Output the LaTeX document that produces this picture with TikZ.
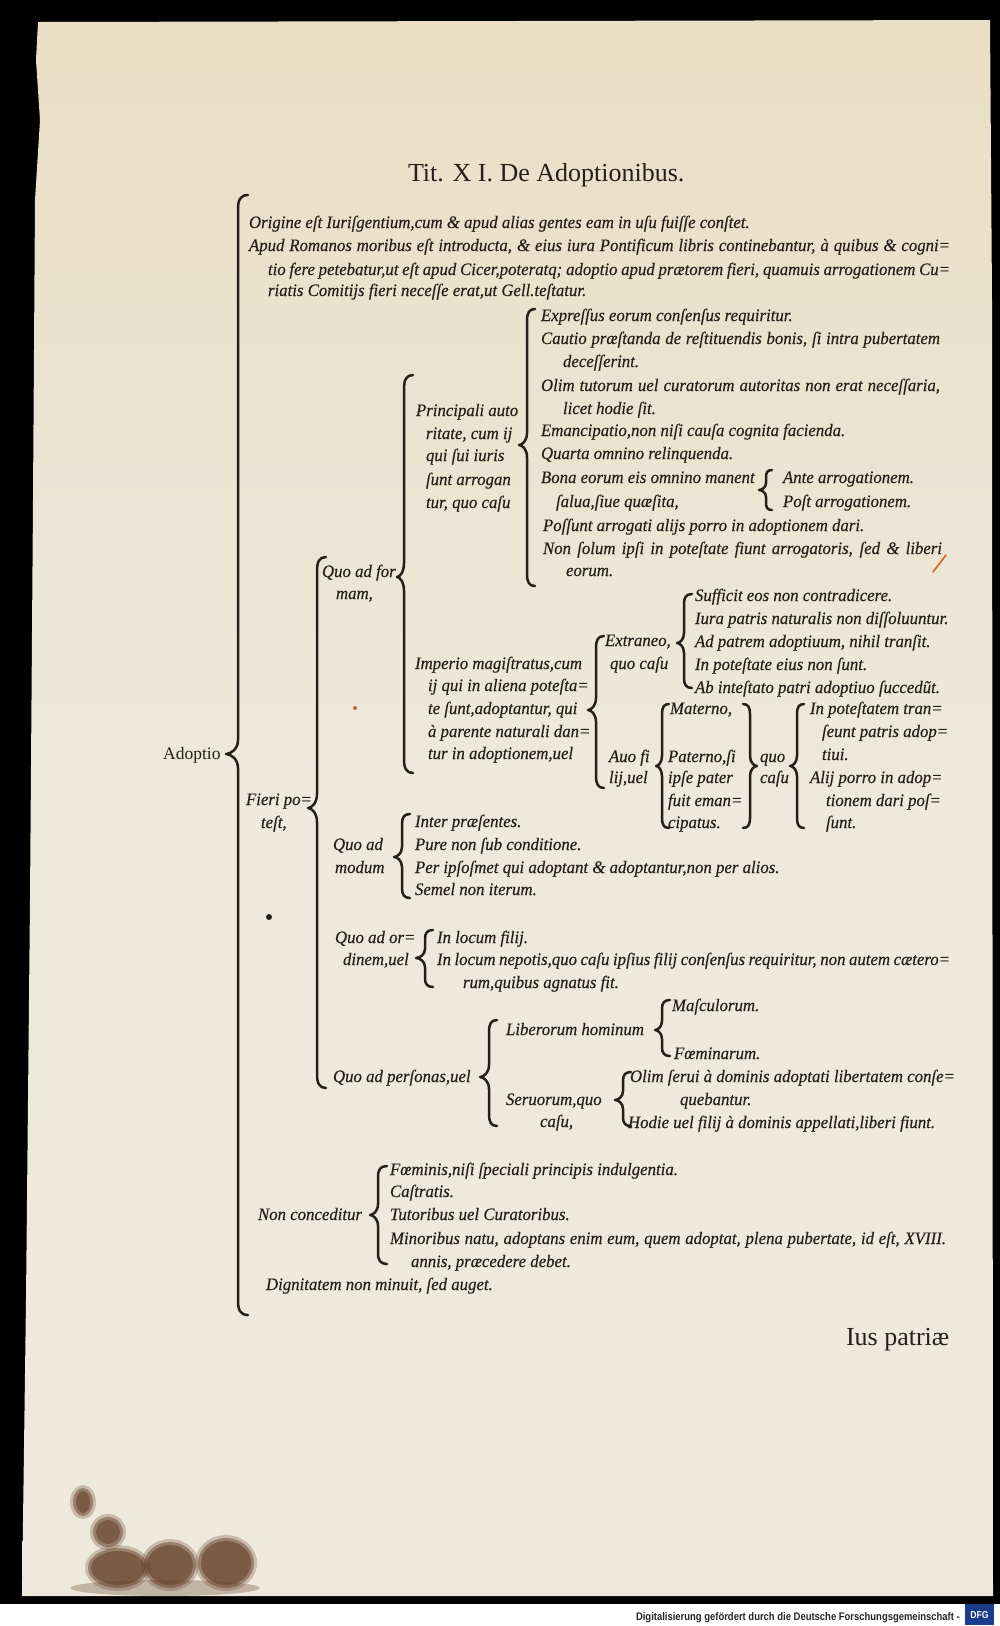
\documentclass[tikz,border=0pt]{standalone}
\usepackage{fontspec}
\setmainfont{Liberation Serif}
\newfontfamily\itf[FakeStretch=0.96,FakeBold=0.4]{Liberation Serif Italic}
\newfontfamily\upf{Liberation Serif}
\newfontfamily\footf[FakeStretch=0.86]{Liberation Sans Bold}
\usetikzlibrary{calc}
\definecolor{ink}{RGB}{40,30,25}
\definecolor{paper}{RGB}{237,233,220}
\definecolor{papertop}{RGB}{234,222,196}
\definecolor{stain}{RGB}{95,55,33}
\definecolor{dfgblue}{RGB}{25,60,140}
\definecolor{redmark}{RGB}{215,95,55}
\newcommand{\T}[4]{\node[txt] (#1) at (#2,{#3+5}) {#4};}
\newcommand{\TJ}[5]{\node[txt] (#1) at (#2,{#3+5}) {\makebox[#4pt][s]{#5}};}
\newcommand{\brc}[7]{%
 \draw[brc] ({#1+(#6)},#2) .. controls ({#1+0.25*(#6)},#2) and (#1,{#2+0.35*#7}) .. (#1,{#2+#7})
  -- (#1,{#3-#7}) .. controls (#1,{#3-0.35*#7}) and ({#5+0.4*(#1-#5)},#3) .. (#5,#3)
  .. controls ({#5+0.4*(#1-#5)},#3) and (#1,{#3+0.35*#7}) .. (#1,{#3+#7})
  -- (#1,{#4-#7}) .. controls (#1,{#4-0.35*#7}) and ({#1+0.25*(#6)},#4) .. ({#1+(#6)},#4);}
\newcommand{\blob}[4]{%
 \fill[stain, opacity=0.25] (#1,#2) ellipse ({#3+3} and {#4+3});
 \fill[stain, opacity=0.45] (#1,#2) ellipse (#3 and #4);
 \fill[stain, opacity=0.5] (#1,#2) ellipse ({#3-3} and {#4-3});}
\begin{document}
\begin{tikzpicture}[x=1pt,y=-1pt,
  txt/.style={anchor=base west, inner sep=0pt, outer sep=0pt, font=\itf\fontsize{17.5}{20}\selectfont, text=ink},
  upr/.style={anchor=base west, inner sep=0pt, outer sep=0pt, font=\upf\fontsize{26}{30}\selectfont, text=ink},
  brc/.style={draw=ink, line width=2.5pt, line cap=round, line join=round}]
\useasboundingbox (0,0) rectangle (1000,1626);
% background and page
\fill[black] (0,0) rectangle (1000,1604);
\fill[white] (0,1604) rectangle (1000,1626);
\shade[top color=papertop, bottom color=paper, middle color=paper]
  (38,22) -- (990,20) -- (992,300) -- (993,1596) -- (22,1596) -- (26,1300) -- (30,900) -- (33,500) -- (35,200) -- (40,120) -- (36,60) -- cycle;
% stains
\blob{83}{1502}{10}{14}
\blob{108}{1532}{15}{15}
\blob{118}{1568}{30}{20}
\blob{170}{1565}{26}{23}
\blob{226}{1563}{28}{25}
\fill[stain, opacity=0.3] (165,1588) ellipse (95 and 8);
\fill[ink] (269,917) circle (3);
\fill[redmark] (355,708) circle (2);
\draw[redmark, line width=1.6pt, line cap=round] (946,555) -- (933,572);
% title
\node[upr] (title) at (408,181) {Tit. X I. De Adoptionibus.};
\node[upr] (ius) at (846,1345) {Ius patriæ};
\node[anchor=base west, inner sep=0pt, font=\upf\fontsize{17.5}{20}\selectfont, text=ink] (adoptio) at (163,759) {Adoptio};
% footer
\node[anchor=base east, inner sep=0pt, font=\footf\fontsize{11}{12}\selectfont, text=black!85] (footer) at (960,1620) {Digitalisierung gefördert durch die Deutsche Forschungsgemeinschaft -};
\fill[dfgblue] (965,1604) rectangle (994,1625);
\node[anchor=center, inner sep=0pt, font=\footf\fontsize{10}{11}\selectfont, text=white] (dfg) at (979.5,1615) {DFG};
% braces
\brc{238}{195}{754}{1315}{226}{10}{14}
\brc{317}{557}{808}{1088}{308}{9}{14}
\brc{404}{375}{577}{773}{397}{9}{14}
\brc{527}{309}{445}{586}{519}{8}{12}
\brc{766}{470}{490}{510}{759}{6}{7}
\brc{596}{636}{710}{788}{588}{8}{12}
\brc{684}{594}{643}{688}{677}{8}{10}
\brc{662}{704}{766}{828}{656}{7}{10}
\brc{750}{704}{766}{828}{757}{-7}{10}
\brc{797}{704}{766}{828}{790}{7}{10}
\brc{402}{814}{857}{898}{394}{8}{10}
\brc{425}{930}{958}{987}{416}{8}{9}
\brc{489}{1020}{1077}{1126}{480}{8}{12}
\brc{662}{1000}{1030}{1056}{655}{8}{9}
\brc{623}{1072}{1100}{1126}{615}{8}{9}
\brc{378}{1166}{1215}{1264}{370}{9}{11}
% top level
\T{l1}{249}{223}{Origine eſt Iuriſgentium,cum \& apud alias gentes eam in uſu fuiſſe conſtet.}
\TJ{l2}{249}{246}{701}{Apud Romanos moribus eſt introducta, \& eius iura Pontificum libris continebantur, à quibus \& cogni=}
\TJ{l3}{268}{270}{682}{tio fere petebatur,ut eſt apud Cicer,poteratq; adoptio apud prætorem fieri, quamuis arrogationem Cu=}
\T{l4}{268}{291}{riatis Comitijs fieri neceſſe erat,ut Gell.teſtatur.}
\T{fa}{246}{800}{Fieri po=}
\T{fb}{261}{823}{teſt,}
\T{nc}{258}{1215}{Non conceditur}
\T{dig}{266}{1285}{Dignitatem non minuit, ſed auget.}
% Fieri children
\T{qf1}{322}{572}{Quo ad for}
\T{qf2}{336}{594}{mam,}
\T{qm1}{333}{845}{Quo ad}
\T{qm2}{335}{868}{modum}
\T{qo1}{335}{938}{Quo ad or=}
\T{qo2}{343}{960}{dinem,uel}
\T{qp}{333}{1077}{Quo ad perſonas,uel}
% Principali
\T{p1}{416}{411}{Principali auto}
\T{p2}{426}{434}{ritate, cum ij}
\T{p3}{426}{456}{qui ſui iuris}
\T{p4}{426}{480}{ſunt arrogan}
\T{p5}{426}{503}{tur, quo caſu}
\T{pa}{541}{316}{Expreſſus eorum conſenſus requiritur.}
\TJ{pb1}{541}{339}{399}{Cautio præſtanda de reſtituendis bonis, ſi intra pubertatem}
\T{pb2}{563}{362}{deceſſerint.}
\TJ{pc1}{541}{386}{399}{Olim tutorum uel curatorum autoritas non erat neceſſaria,}
\T{pc2}{563}{409}{licet hodie ſit.}
\T{pd}{541}{431}{Emancipatio,non niſi cauſa cognita facienda.}
\T{pe}{541}{454}{Quarta omnino relinquenda.}
\T{pf1}{541}{478}{Bona eorum eis omnino manent}
\T{pf2}{556}{502}{ſalua,ſiue quæſita,}
\T{pfa}{783}{478}{Ante arrogationem.}
\T{pfb}{783}{502}{Poſt arrogationem.}
\T{pg}{543}{526}{Poſſunt arrogati alijs porro in adoptionem dari.}
\TJ{ph1}{543}{549}{399}{Non ſolum ipſi in poteſtate fiunt arrogatoris, ſed \& liberi}
\T{ph2}{566}{571}{eorum.}
% Imperio
\T{i1}{415}{664}{Imperio magiſtratus,cum}
\T{i2}{428}{686}{ij qui in aliena poteſta=}
\T{i3}{428}{709}{te ſunt,adoptantur, qui}
\T{i4}{428}{732}{à parente naturali dan=}
\T{i5}{428}{754}{tur in adoptionem,uel}
\T{ex1}{605}{641}{Extraneo,}
\T{ex2}{610}{664}{quo caſu}
\T{exa}{695}{596}{Sufficit eos non contradicere.}
\T{exb}{695}{619}{Iura patris naturalis non diſſoluuntur.}
\T{exc}{695}{642}{Ad patrem adoptiuum, nihil tranſit.}
\T{exd}{695}{665}{In poteſtate eius non ſunt.}
\T{exe}{695}{688}{Ab inteſtato patri adoptiuo ſuccedũt.}
\T{au1}{609}{757}{Auo fi}
\T{au2}{609}{778}{lij,uel}
\T{ma}{670}{709}{Materno,}
\T{pt1}{668}{757}{Paterno,ſi}
\T{pt2}{668}{778}{ipſe pater}
\T{pt3}{668}{801}{fuit eman=}
\T{pt4}{668}{823}{cipatus.}
\T{quo}{760}{757}{quo}
\T{casu}{760}{778}{caſu}
\T{ra1}{810}{709}{In poteſtatem tran=}
\T{ra2}{822}{732}{ſeunt patris adop=}
\T{ra3}{822}{755}{tiui.}
\T{rb1}{810}{778}{Alij porro in adop=}
\T{rb2}{826}{801}{tionem dari poſ=}
\T{rb3}{826}{823}{ſunt.}
% Modum
\T{m1}{415}{822}{Inter præſentes.}
\T{m2}{415}{845}{Pure non ſub conditione.}
\T{m3}{415}{868}{Per ipſoſmet qui adoptant \& adoptantur,non per alios.}
\T{m4}{415}{890}{Semel non iterum.}
% Ordinem
\T{o1}{437}{938}{In locum filij.}
\TJ{o2}{437}{960}{513}{In locum nepotis,quo caſu ipſius filij conſenſus requiritur, non autem cætero=}
\T{o3}{463}{983}{rum,quibus agnatus fit.}
% Personas
\T{lib}{506}{1030}{Liberorum hominum}
\T{mas}{672}{1006}{Maſculorum.}
\T{foe}{674}{1054}{Fœminarum.}
\T{ser1}{506}{1100}{Seruorum,quo}
\T{ser2}{540}{1122}{caſu,}
\T{sa1}{630}{1077}{Olim ſerui à dominis adoptati libertatem conſe=}
\T{sa2}{680}{1100}{quebantur.}
\T{sb}{628}{1123}{Hodie uel filij à dominis appellati,liberi fiunt.}
% Non conceditur
\T{n1}{390}{1170}{Fœminis,niſi ſpeciali principis indulgentia.}
\T{n2}{390}{1192}{Caſtratis.}
\T{n3}{390}{1215}{Tutoribus uel Curatoribus.}
\TJ{n4}{390}{1239}{556}{Minoribus natu, adoptans enim eum, quem adoptat, plena pubertate, id eſt, XVIII.}
\T{n5}{411}{1262}{annis, præcedere debet.}
\end{tikzpicture}
\end{document}
